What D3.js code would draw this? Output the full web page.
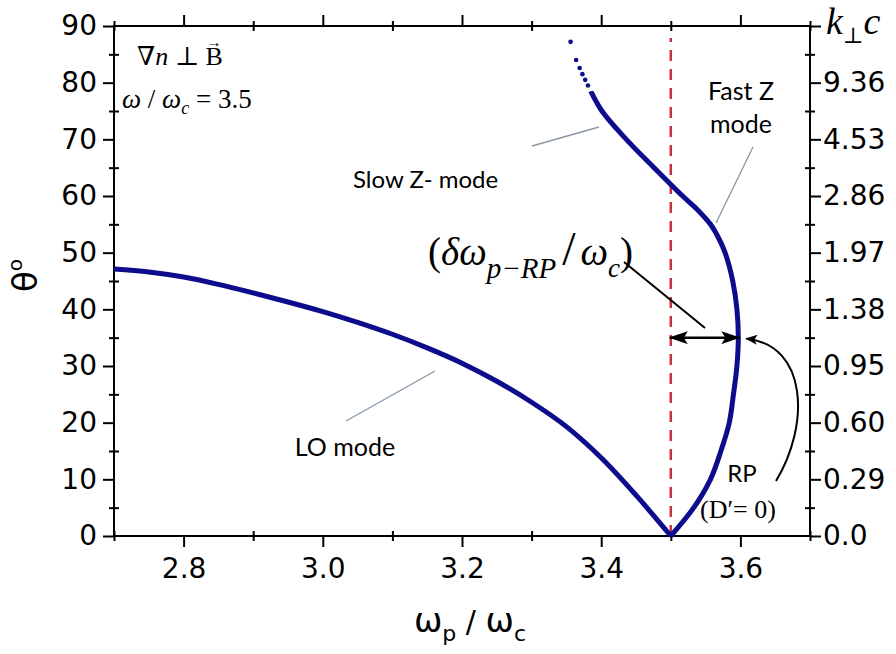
<!DOCTYPE html>
<html lang="en">
<head>
<meta charset="utf-8">
<title>theta vs wp/wc</title>
<script src="https://cdn.jsdelivr.net/npm/d3@7"></script>
<style>
  body { margin: 0; background: #fff; }
  .tick text { font-family: "DejaVu Sans", sans-serif; font-size: 28px; fill: #000; }
  .tick line { stroke: #000; stroke-width: 2px; }
  .serif { font-family: "Liberation Serif", "DejaVu Serif", serif; }
  .note { font-family: Lato, "Open Sans", sans-serif; }
</style>
</head>
<body>
<script>
var width = 896, height = 654
var margin = {left: 114, right: 86, top: 26, bottom: 118}

// LO mode branch (omega_p/omega_c, theta in degrees)
var loX     = [2.70, 2.75, 2.80, 2.85, 2.90, 2.95, 3.00, 3.05, 3.10, 3.15, 3.20, 3.25, 3.30, 3.35, 3.40, 3.45, 3.50]
var loTheta = [47.1, 46.6, 45.7, 44.4, 42.9, 41.3, 39.6, 37.7, 35.6, 33.2, 30.5, 27.3, 23.6, 19.3, 13.8, 7.2, 0]

// Z mode branch, fast Z below the turning point, slow Z above it
var zX     = [3.500, 3.533, 3.557, 3.572, 3.584, 3.590, 3.595, 3.597, 3.595, 3.589, 3.578, 3.569, 3.557, 3.539, 3.517, 3.476, 3.436, 3.401, 3.385]
var zTheta = [0, 5, 10, 15, 20, 25, 30, 35, 40, 45, 50, 52.5, 55, 57.5, 60, 65, 70, 75, 78.5]

// loose points at the top of the slow Z branch
var tailX     = [3.381, 3.377, 3.373, 3.369, 3.364, 3.356]
var tailTheta = [79.5, 80.5, 81.5, 82.6, 84.0, 87.2]

var xMajor = [2.8, 3.0, 3.2, 3.4, 3.6]
var xMinor = [2.7, 2.9, 3.1, 3.3, 3.5, 3.7]
var yMajor = [0, 10, 20, 30, 40, 50, 60, 70, 80, 90]
var yMinor = [5, 15, 25, 35, 45, 55, 65, 75, 85]
// k_perp c values at the theta ticks
var kLabels = ["0.0", "0.29", "0.60", "0.95", "1.38", "1.97", "2.86", "4.53", "9.36", ""]

var rpLine = 3.5       // omega / omega_c
var rpTheta = 35.0     // theta at the RP turning point
var rpX = 3.597

var svg = d3.select("body").append("svg").attr("width", width).attr("height", height)

var x = d3.scaleLinear().domain([2.7, 3.7]).range([margin.left, width - margin.right])
var y = d3.scaleLinear().domain([0, 90]).range([height - margin.bottom, margin.top])
var x0 = x.range()[0], x1 = x.range()[1], y0 = y.range()[0], y1 = y.range()[1]

var defs = svg.append("defs")
defs.append("marker").attr("id", "head").attr("viewBox", "0 0 19 13")
    .attr("markerUnits", "userSpaceOnUse").attr("markerWidth", 19).attr("markerHeight", 13)
    .attr("refX", 18).attr("refY", 6.5).attr("orient", "auto-start-reverse")
  .append("path").attr("d", "M0,0 L19,6.5 L0,13 L4,6.5 Z").attr("fill", "#000")
defs.append("marker").attr("id", "small").attr("viewBox", "0 0 12 10")
    .attr("markerUnits", "userSpaceOnUse").attr("markerWidth", 12).attr("markerHeight", 10)
    .attr("refX", 11).attr("refY", 5).attr("orient", "auto")
  .append("path").attr("d", "M0,0 L12,5 L0,10 L3,5 Z").attr("fill", "#000")

// axes: major ticks point outward, minor ticks cross the frame
function noDomain(g) { g.select(".domain").remove() }

svg.append("g").attr("transform", "translate(0," + y0 + ")")
   .call(d3.axisBottom(x).tickValues(xMajor).tickSize(11).tickPadding(11).tickFormat(d3.format(".1f"))).call(noDomain)
svg.append("g").attr("transform", "translate(0," + (y0 - 5) + ")")
   .call(d3.axisBottom(x).tickValues(xMinor).tickSize(10).tickFormat("")).call(noDomain)
svg.append("g").attr("transform", "translate(0," + y1 + ")")
   .call(d3.axisTop(x).tickValues(xMajor).tickSize(11).tickFormat("")).call(noDomain)
svg.append("g").attr("transform", "translate(0," + (y1 + 5) + ")")
   .call(d3.axisTop(x).tickValues(xMinor).tickSize(10).tickFormat("")).call(noDomain)

svg.append("g").attr("transform", "translate(" + x0 + ",0)")
   .call(d3.axisLeft(y).tickValues(yMajor).tickSize(11).tickPadding(6)).call(noDomain)
svg.append("g").attr("transform", "translate(" + (x0 + 5) + ",0)")
   .call(d3.axisLeft(y).tickValues(yMinor).tickSize(10).tickFormat("")).call(noDomain)
svg.append("g").attr("transform", "translate(" + x1 + ",0)")
   .call(d3.axisRight(y).tickValues(yMajor).tickSize(11).tickPadding(2)
     .tickFormat(function(d, i) { return kLabels[i] })).call(noDomain)
svg.append("g").attr("transform", "translate(" + (x1 - 5) + ",0)")
   .call(d3.axisRight(y).tickValues(yMinor).tickSize(10).tickFormat("")).call(noDomain)

svg.append("rect").attr("x", x0).attr("y", y1).attr("width", x1 - x0).attr("height", y0 - y1)
   .attr("fill", "none").attr("stroke", "#000").attr("stroke-width", 2)

// red dashed line at omega_p = omega
svg.append("line").attr("x1", x(rpLine)).attr("x2", x(rpLine)).attr("y1", y0).attr("y2", y1 + 12)
   .attr("stroke", "#c8303f").attr("stroke-width", 2.5).attr("stroke-dasharray", "11,8")

// curves
var line = d3.line().x(function(d) { return x(d[0]) }).y(function(d) { return y(d[1]) }).curve(d3.curveCatmullRom)
var navy = "#0c0c8c"
svg.append("path").datum(d3.zip(loX, loTheta)).attr("d", line)
   .attr("fill", "none").attr("stroke", navy).attr("stroke-width", 5)
svg.append("path").datum(d3.zip(zX, zTheta)).attr("d", line)
   .attr("fill", "none").attr("stroke", navy).attr("stroke-width", 5)
svg.selectAll("circle.tail").data(d3.zip(tailX, tailTheta)).enter().append("circle")
   .attr("class", "tail").attr("cx", function(d) { return x(d[0]) }).attr("cy", function(d) { return y(d[1]) })
   .attr("r", 2.3).attr("fill", navy)

// delta omega arrow
svg.append("line").attr("x1", x(rpLine) - 1).attr("x2", x(rpX) + 1).attr("y1", y(rpTheta)).attr("y2", y(rpTheta))
   .attr("stroke", "#000").attr("stroke-width", 2.5)
   .attr("marker-start", "url(#head)").attr("marker-end", "url(#head)")
svg.append("line").attr("x1", 624).attr("y1", 262).attr("x2", 705).attr("y2", 328)
   .attr("stroke", "#000").attr("stroke-width", 2)
// curved arrow from the RP label
svg.append("path").attr("d", "M776,481 C810,425 808,345 " + (x(rpX) + 8) + "," + (y(rpTheta) + 1))
   .attr("fill", "none").attr("stroke", "#000").attr("stroke-width", 2).attr("marker-end", "url(#small)")

// leader lines for the mode labels
var lead = [[532, 146, 599, 127], [753, 147, 716, 223], [346, 421, 435, 371]]
svg.selectAll("line.lead").data(lead).enter().append("line").attr("class", "lead")
   .attr("x1", function(d) { return d[0] }).attr("y1", function(d) { return d[1] })
   .attr("x2", function(d) { return d[2] }).attr("y2", function(d) { return d[3] })
   .attr("stroke", "#8797a8").attr("stroke-width", 1.3)

// labels
svg.append("text").attr("class", "note").attr("x", 741).attr("y", 100).attr("text-anchor", "middle")
   .attr("font-size", 25).text("Fast Z")
svg.append("text").attr("class", "note").attr("x", 741).attr("y", 133).attr("text-anchor", "middle")
   .attr("font-size", 25).text("mode")
svg.append("text").attr("class", "note").attr("x", 353).attr("y", 188).attr("font-size", 24).text("Slow Z- mode")
svg.append("text").attr("class", "note").attr("x", 345).attr("y", 456).attr("text-anchor", "middle")
   .attr("font-size", 25).text("LO mode")
svg.append("text").attr("class", "note").attr("x", 742).attr("y", 482).attr("text-anchor", "middle")
   .attr("font-size", 24).text("RP")
svg.append("text").attr("class", "serif").attr("x", 700).attr("y", 518).attr("font-size", 26).text("(D\u2032= 0)")

var t1 = svg.append("text").attr("class", "serif").attr("x", 137).attr("y", 65).attr("font-size", 26)
t1.append("tspan").text("\u2207")
t1.append("tspan").attr("font-style", "italic").text("n")
t1.append("tspan").text(" \u22A5 B")
svg.append("text").attr("class", "serif").attr("x", 214).attr("y", 47).attr("text-anchor", "middle")
   .attr("font-size", 15).text("\u2192")

var t2 = svg.append("text").attr("class", "serif").attr("x", 122).attr("y", 108).attr("font-size", 27)
t2.append("tspan").attr("font-style", "italic").text("\u03C9")
t2.append("tspan").text(" / ")
t2.append("tspan").attr("font-style", "italic").text("\u03C9")
t2.append("tspan").attr("font-style", "italic").attr("font-size", 18).attr("dy", 6).text("c")
t2.append("tspan").attr("dy", -6).text(" = 3.5")

var t3 = svg.append("text").attr("class", "serif").attr("x", 428).attr("y", 265).attr("font-size", 39)
t3.append("tspan").text("(")
t3.append("tspan").attr("font-style", "italic").text("\u03B4\u03C9")
t3.append("tspan").attr("font-style", "italic").attr("font-size", 29).attr("dy", 13).text("p\u2212RP")
t3.append("tspan").attr("font-size", 48).attr("dy", -13).attr("dx", 6).text("/")
t3.append("tspan").attr("font-style", "italic").attr("dx", 5).text("\u03C9")
t3.append("tspan").attr("font-style", "italic").attr("font-size", 27).attr("dy", 12).text("c")
t3.append("tspan").attr("dy", -12).text(")")

var kt = svg.append("text").attr("class", "serif").attr("x", 826).attr("y", 34).attr("font-size", 38)
kt.append("tspan").attr("font-style", "italic").text("k")
kt.append("tspan").attr("font-size", 22).attr("dy", 9).text("\u22A5")
kt.append("tspan").attr("font-style", "italic").attr("dy", -9).text("c")

// axis titles
var xt = svg.append("text").attr("x", 470).attr("y", 632).attr("text-anchor", "middle")
   .attr("font-family", "DejaVu Sans, sans-serif").attr("font-size", 34)
xt.append("tspan").text("\u03C9")
xt.append("tspan").attr("font-size", 22).attr("dy", 9).text("p")
xt.append("tspan").attr("dy", -9).attr("font-size", 30).text(" / ")
xt.append("tspan").text("\u03C9")
xt.append("tspan").attr("font-size", 22).attr("dy", 9).text("c")

var yt = svg.append("text").attr("transform", "translate(37,292) rotate(-90)")
   .attr("font-family", "DejaVu Sans, sans-serif").attr("font-size", 34)
yt.append("tspan").text("\u03B8")
yt.append("tspan").attr("font-size", 20).attr("dy", -15).text("o")
</script>
</body>
</html>
